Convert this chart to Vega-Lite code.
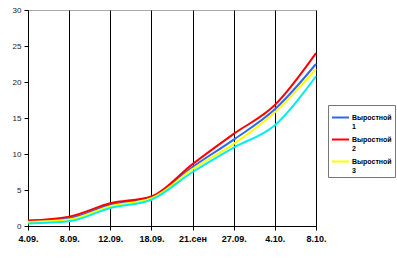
{
  "$schema": "https://vega.github.io/schema/vega-lite/v6.json",
  "width": 288,
  "height": 216,
  "autosize": {"type": "none"},
  "padding": {"left": 28, "top": 10, "right": 81, "bottom": 45},
  "background": "white",
  "config": {
    "view": {"stroke": "#aaaaaa", "strokeWidth": 1},
    "font": "Liberation Sans"
  },
  "data": {
    "values": [
      {"date": "4.09.", "series": "Выростной 1", "value": 0.7},
      {"date": "8.09.", "series": "Выростной 1", "value": 1.1},
      {"date": "12.09.", "series": "Выростной 1", "value": 2.95},
      {"date": "18.09.", "series": "Выростной 1", "value": 4.0},
      {"date": "21.сен", "series": "Выростной 1", "value": 8.2},
      {"date": "27.09.", "series": "Выростной 1", "value": 12.0},
      {"date": "4.10.", "series": "Выростной 1", "value": 16.2},
      {"date": "8.10.", "series": "Выростной 1", "value": 22.5},
      {"date": "4.09.", "series": "Выростной 2", "value": 0.75},
      {"date": "8.09.", "series": "Выростной 2", "value": 1.3},
      {"date": "12.09.", "series": "Выростной 2", "value": 3.15},
      {"date": "18.09.", "series": "Выростной 2", "value": 4.1},
      {"date": "21.сен", "series": "Выростной 2", "value": 8.6},
      {"date": "27.09.", "series": "Выростной 2", "value": 12.8},
      {"date": "4.10.", "series": "Выростной 2", "value": 16.8},
      {"date": "8.10.", "series": "Выростной 2", "value": 24.0},
      {"date": "4.09.", "series": "Выростной 3", "value": 0.55},
      {"date": "8.09.", "series": "Выростной 3", "value": 0.9},
      {"date": "12.09.", "series": "Выростной 3", "value": 2.75},
      {"date": "18.09.", "series": "Выростной 3", "value": 3.85},
      {"date": "21.сен", "series": "Выростной 3", "value": 7.9},
      {"date": "27.09.", "series": "Выростной 3", "value": 11.4},
      {"date": "4.10.", "series": "Выростной 3", "value": 15.8},
      {"date": "8.10.", "series": "Выростной 3", "value": 21.8},
      {"date": "4.09.", "series": "Выростной 4", "value": 0.35},
      {"date": "8.09.", "series": "Выростной 4", "value": 0.65},
      {"date": "12.09.", "series": "Выростной 4", "value": 2.5},
      {"date": "18.09.", "series": "Выростной 4", "value": 3.65},
      {"date": "21.сен", "series": "Выростной 4", "value": 7.5},
      {"date": "27.09.", "series": "Выростной 4", "value": 10.9},
      {"date": "4.10.", "series": "Выростной 4", "value": 14.0},
      {"date": "8.10.", "series": "Выростной 4", "value": 20.8}
    ]
  },
  "mark": {"type": "line", "interpolate": "monotone", "strokeWidth": 2},
  "encoding": {
    "x": {
      "field": "date",
      "type": "nominal",
      "sort": ["4.09.", "8.09.", "12.09.", "18.09.", "21.сен", "27.09.", "4.10.", "8.10."],
      "scale": {"type": "point", "padding": 0},
      "axis": {
        "title": null,
        "labelAngle": 0,
        "grid": true,
        "gridColor": "#000000",
        "gridOpacity": 1,
        "gridWidth": 1,
        "domainColor": "#000000",
        "domainWidth": 1,
        "tickColor": "#000000",
        "tickSize": 4,
        "labelFont": "Liberation Sans",
        "labelFontWeight": "bold",
        "labelFontSize": 9,
        "labelColor": "#000000",
        "labelPadding": 4
      }
    },
    "y": {
      "field": "value",
      "type": "quantitative",
      "scale": {"domain": [0, 30], "nice": false},
      "axis": {
        "title": null,
        "values": [0, 5, 10, 15, 20, 25, 30],
        "grid": false,
        "domainColor": "#000000",
        "domainWidth": 1,
        "tickColor": "#000000",
        "tickSize": 4,
        "labelFont": "Liberation Sans",
        "labelFontSize": 8,
        "labelColor": "#222222",
        "labelPadding": 3
      }
    },
    "color": {
      "field": "series",
      "type": "nominal",
      "scale": {
        "domain": ["Выростной 1", "Выростной 2", "Выростной 3", "Выростной 4"],
        "range": ["#3366ee", "#ff0000", "#ffff00", "#00eeee"]
      },
      "legend": {
        "values": ["Выростной 1", "Выростной 2", "Выростной 3"],
        "title": null,
        "orient": "none",
        "legendX": 300,
        "legendY": 95,
        "labelExpr": "split(datum.label, ' ')",
        "labelFont": "Liberation Sans",
        "labelFontWeight": "bold",
        "labelFontSize": 7,
        "labelColor": "#000000",
        "labelOffset": 2,
        "symbolType": "stroke",
        "symbolSize": 289,
        "symbolStrokeWidth": 2,
        "rowPadding": -3,
        "padding": 3,
        "strokeColor": "#777777",
        "fillColor": "#ffffff",
        "encode": {
          "legend": {
            "update": {
              "stroke": {"value": "#777777"},
              "strokeWidth": {"value": 1},
              "fill": {"value": "#ffffff"}
            }
          }
        }
      }
    }
  }
}
